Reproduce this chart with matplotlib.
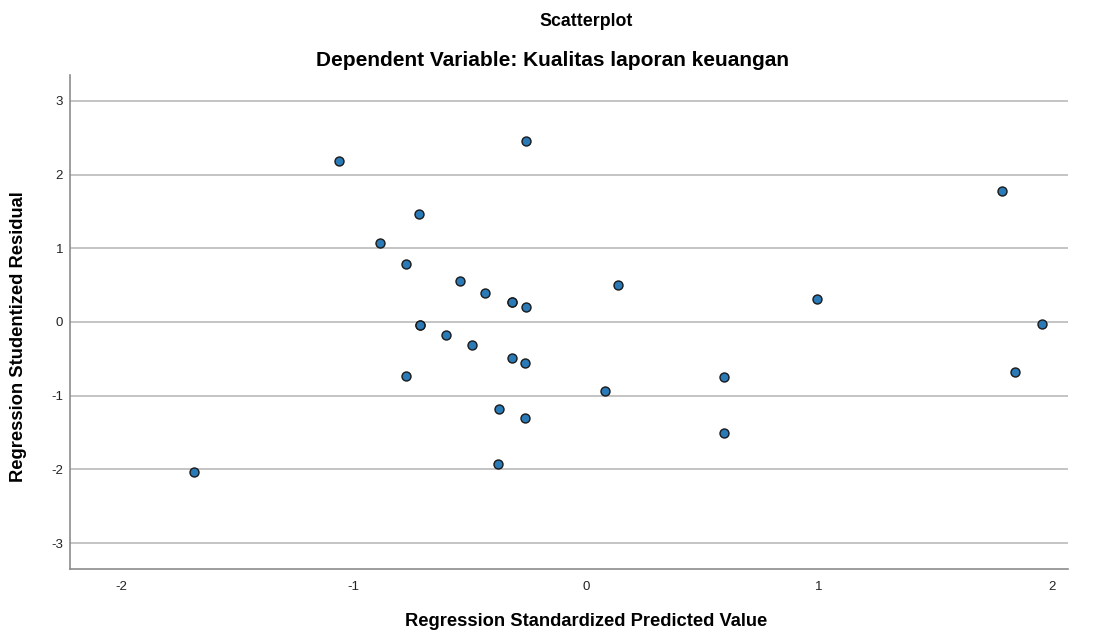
import matplotlib
matplotlib.use("Agg")
import matplotlib.pyplot as plt

# Regression standardized predicted value vs studentized residual
pred_std = [
    -1.063, -0.261, -0.718, -0.886, -0.775, -0.544, -0.435, -0.322, -0.322, -0.261,
    -0.717, -0.717, -0.603, -0.494, -0.318, -0.264, -0.777, -0.378, -0.264, -0.381,
    0.137, 0.989, 0.078, 0.591, 0.591,
    1.785, 1.959, 1.844, -1.689,
]
resid_stud = [
    2.19, 2.45, 1.47, 1.07, 0.78, 0.55, 0.40, 0.27, 0.27, 0.20,
    -0.04, -0.04, -0.18, -0.31, -0.49, -0.55, -0.73, -1.18, -1.30, -1.93,
    0.50, 0.31, -0.93, -0.75, -1.50,
    1.78, -0.03, -0.68, -2.04,
]

X_TICKS = [-2, -1, 0, 1, 2]
Y_TICKS = [-3, -2, -1, 0, 1, 2, 3]

plt.rcParams.update({
    "font.family": ["Liberation Sans", "DejaVu Sans"],
    "axes.unicode_minus": False,
})

W, H = 1096, 636
fig = plt.figure(figsize=(W / 100, H / 100), dpi=100)
# axes box: left 70, right 1068, top 75, bottom 569 (pixels)
ax = fig.add_axes([70 / W, 1 - 569 / H, 998 / W, 494 / H])

ax.set_xlim(-2.22, 2.07)
ax.set_ylim(-3.35, 3.35)
ax.set_xticks(X_TICKS)
ax.set_yticks(Y_TICKS)

ax.grid(axis="y", color="#c4c4c4", linewidth=1.4)
ax.set_axisbelow(True)
for side in ("top", "right"):
    ax.spines[side].set_visible(False)
for side in ("left", "bottom"):
    ax.spines[side].set_color("#8c8c8c")
    ax.spines[side].set_linewidth(1.2)
ax.tick_params(length=0, labelsize=9.5, colors="#222222")
ax.tick_params(axis="x", pad=9)
ax.tick_params(axis="y", pad=5)

ax.scatter(pred_std, resid_stud, s=42, color="#2a7ab8",
           edgecolors="#1a1a1a", linewidths=1.0, zorder=3)

ax.set_xlabel("Regression Standardized Predicted Value", fontsize=13.2,
              fontweight="bold")
ax.xaxis.label.set_va("center")
ax.xaxis.set_label_coords((586 - 70) / 998, (569 - 621) / 494)
ax.set_ylabel("Regression Studentized Residual", fontsize=13.2,
              fontweight="bold")
ax.yaxis.label.set_va("center")
ax.yaxis.set_label_coords((19 - 70) / 998, (569 - 337) / 494)

fig.text(586 / W, 1 - 22 / H, "Scatterplot", ha="center", va="center",
         fontsize=12.8, fontweight="bold")
fig.text(552 / W, 1 - 60 / H, "Dependent Variable: Kualitas laporan keuangan",
         ha="center", va="center", fontsize=15, fontweight="bold")

fig.savefig("out.png", dpi=100, facecolor="white")
plt.close(fig)
